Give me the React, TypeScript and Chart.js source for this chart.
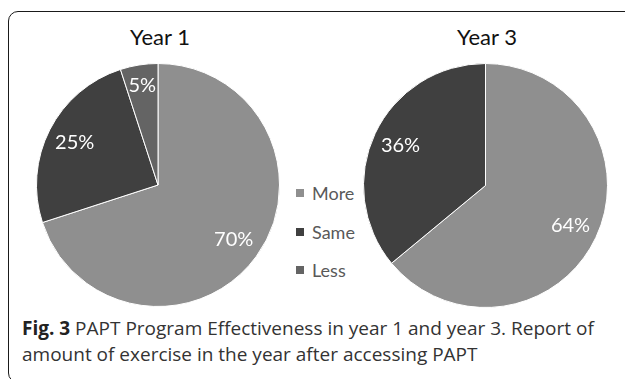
import React, { useEffect, useRef } from "react";
import { Chart, registerables } from "chart.js";

Chart.register(...registerables);

const categories = ["More", "Same", "Less"];
const year1Values = [70, 25, 5];
const year3Values = [64, 36, 0];
const sliceColors = ["#8f8f8f", "#404040", "#646464"];
const pieTitles = ["Year 1", "Year 3"];
const captionBold = "Fig. 3";
const captionLine1 = " PAPT Program Effectiveness in year 1 and year 3. Report of";
const captionLine2 = "amount of exercise in the year after accessing PAPT";

const labelPlugin = {
  id: "sliceLabels",
  afterDatasetsDraw(chart: any) {
    const ctx = chart.ctx;
    const meta = chart.getDatasetMeta(0);
    const data = chart.data.datasets[0].data as number[];
    ctx.save();
    ctx.fillStyle = "#ffffff";
    ctx.font = "20px Lato, 'Open Sans', sans-serif";
    ctx.textAlign = "center";
    ctx.textBaseline = "middle";
    meta.data.forEach((arc: any, i: number) => {
      const v = data[i];
      if (!v) return;
      const p = arc.getProps(["x", "y", "startAngle", "endAngle", "outerRadius"], true);
      const mid = (p.startAngle + p.endAngle) / 2;
      const r = p.outerRadius * (v < 10 ? 0.83 : 0.77);
      ctx.fillText(v + "%", p.x + Math.cos(mid) * r, p.y + Math.sin(mid) * r);
    });
    ctx.restore();
  },
};

function Pie({ values, left, top, size }: { values: number[]; left: number; top: number; size: number }) {
  const ref = useRef<HTMLCanvasElement>(null);
  useEffect(() => {
    if (!ref.current) return;
    const chart = new Chart(ref.current, {
      type: "pie",
      data: {
        labels: categories,
        datasets: [
          {
            data: values,
            backgroundColor: sliceColors,
            borderColor: "#ffffff",
            borderWidth: 1,
          },
        ],
      },
      options: {
        responsive: false,
        animation: false,
        devicePixelRatio: 1,
        layout: { padding: 0 },
        plugins: { legend: { display: false }, tooltip: { enabled: false }, title: { display: false } },
      },
      plugins: [labelPlugin],
    } as any);
    return () => chart.destroy();
  }, [values]);
  return (
    <canvas
      ref={ref}
      width={size}
      height={size}
      style={{ position: "absolute", left, top, width: size, height: size }}
    />
  );
}

export default function App() {
  const titleStyle: React.CSSProperties = {
    position: "absolute",
    top: 23,
    width: 120,
    textAlign: "center",
    fontFamily: "Lato, 'Open Sans', sans-serif",
    fontSize: 22,
    color: "#111",
    lineHeight: "28px",
  };
  const legendTops = [183, 222, 260];
  return (
    <div
      style={{
        position: "fixed",
        left: 0,
        top: 0,
        width: 625,
        height: 379,
        overflow: "hidden",
        background: "#fff",
      }}
    >
      <div
        style={{
          position: "absolute",
          left: 8,
          top: 11,
          width: 700,
          height: 370,
          border: "1.5px solid #1a1a1a",
          borderRadius: 10,
        }}
      />
      <div style={{ ...titleStyle, left: 160 - 60 }}>{pieTitles[0]}</div>
      <div style={{ ...titleStyle, left: 487 - 60 }}>{pieTitles[1]}</div>
      <Pie values={year1Values} left={36} top={63} size={244} />
      <Pie values={year3Values} left={363} top={63} size={245} />
      {categories.map((c, i) => (
        <div
          key={c}
          style={{
            position: "absolute",
            left: 296,
            top: legendTops[i],
            height: 20,
            display: "flex",
            alignItems: "center",
            fontFamily: "Lato, 'Open Sans', sans-serif",
            fontSize: 18,
            color: "#595959",
          }}
        >
          <span style={{ display: "inline-block", width: 8, height: 8, background: sliceColors[i], marginRight: 8 }} />
          {c}
        </div>
      ))}
      <div
        style={{
          position: "absolute",
          left: 22,
          top: 315,
          width: 610,
          fontFamily: "'Open Sans', sans-serif",
          fontSize: 19,
          lineHeight: "26px",
          color: "#333",
          whiteSpace: "nowrap",
        }}
      >
        <div>
          <b style={{ color: "#222" }}>{captionBold}</b>
          {captionLine1}
        </div>
        <div>{captionLine2}</div>
      </div>
    </div>
  );
}
